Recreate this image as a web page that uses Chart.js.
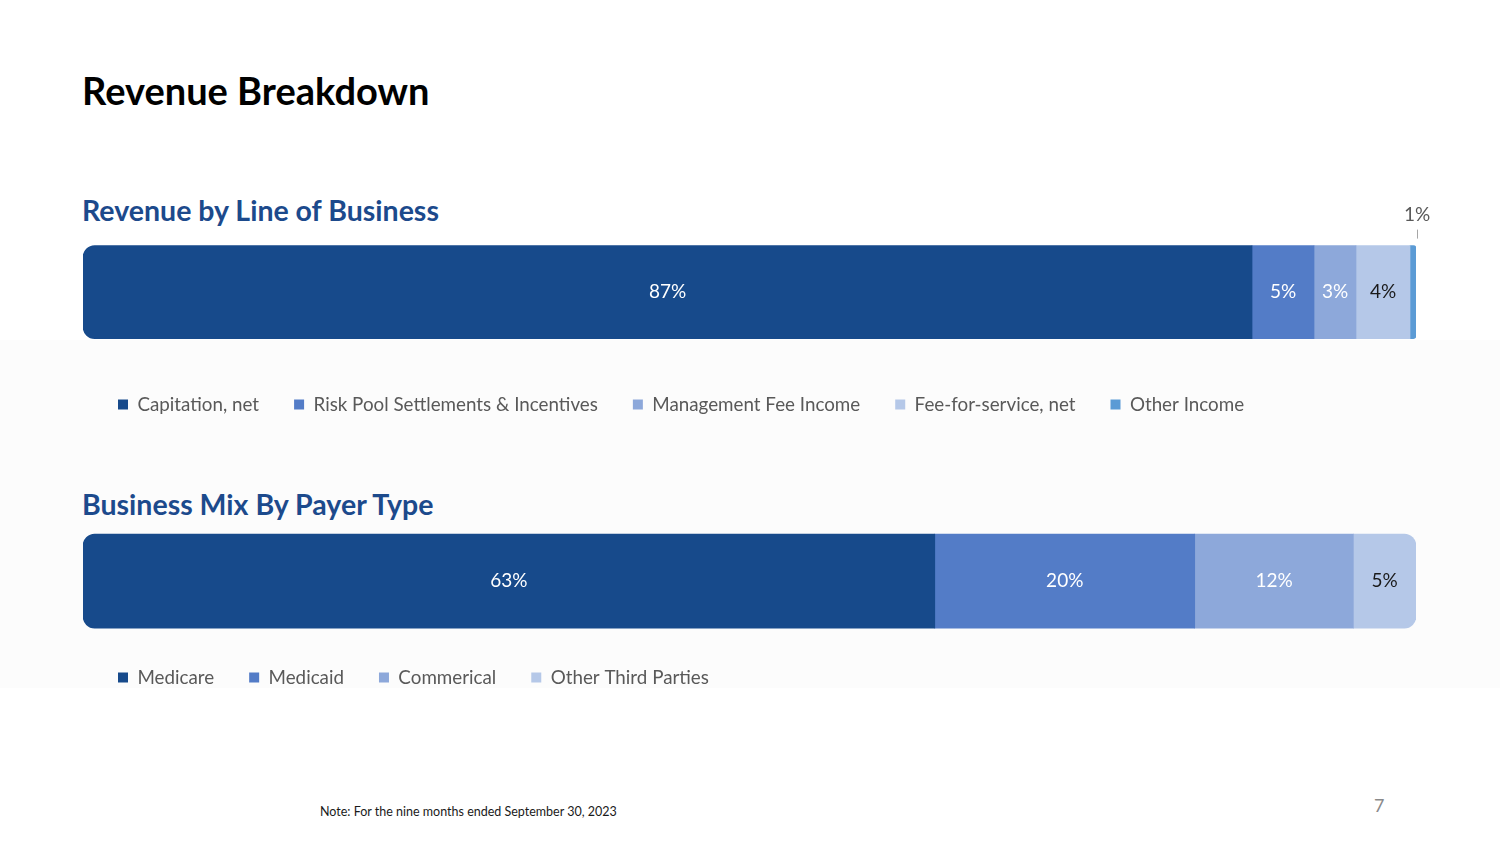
<!DOCTYPE html>
<html>
<head>
<meta charset="utf-8">
<script src="https://cdn.jsdelivr.net/npm/chart.js@4.4.0/dist/chart.umd.min.js"></script>
<style>
  html, body { margin: 0; padding: 0; background: #ffffff; width: 1500px; height: 844px; overflow: hidden; font-family: Lato, "Open Sans", sans-serif; }
  .panel { position: absolute; left: 0; top: 340px; width: 1500px; height: 348px; background: #fcfcfc; }
  .title { position: absolute; left: 82px; top: 67px; font-size: 38px; font-weight: 700; color: #000; white-space: nowrap; }
  .sub { position: absolute; left: 82px; font-size: 28.5px; font-weight: 700; color: #1c4a8c; white-space: nowrap; }
  .note { position: absolute; left: 320px; top: 804px; font-size: 12.5px; color: #1a1a1a; white-space: nowrap; }
  .page { position: absolute; left: 1374px; top: 794px; font-size: 18px; color: #8a8a8a; }
  .cw { position: absolute; left: 83px; width: 1360px; }
</style>
</head>
<body>
<div class="panel"></div>
<div class="title">Revenue Breakdown</div>
<div class="sub" style="top:193px">Revenue by Line of Business</div>
<div class="sub" style="top:487px">Business Mix By Payer Type</div>
<div class="cw" style="top:190px;height:234px"><canvas id="c1"></canvas></div>
<div class="cw" style="top:499px;height:198px"><canvas id="c2"></canvas></div>
<div class="note">Note: For the nine months ended September 30, 2023</div>
<div class="page">7</div>
<script>
// Revenue by Line of Business
const lobCategories = ["Capitation, net", "Risk Pool Settlements & Incentives", "Management Fee Income", "Fee-for-service, net", "Other Income"];
const lobValues = [87.7, 4.65, 3.15, 4.05, 0.45];
const lobLabels = ["87%", "5%", "3%", "4%", "1%"];
const lobColors = ["#174a8b", "#537cc7", "#8da8da", "#b5c8e8", "#5b9bd5"];
const lobLabelColors = ["#ffffff", "#ffffff", "#ffffff", "#1a1a1a", "#595959"];
const lobLabelOutside = [false, false, false, false, true];

// Business Mix by Payer Type
const payerCategories = ["Medicare", "Medicaid", "Commerical", "Other Third Parties"];
const payerValues = [63.9, 19.5, 11.9, 4.7];
const payerLabels = ["63%", "20%", "12%", "5%"];
const payerColors = ["#174a8b", "#537cc7", "#8da8da", "#b5c8e8"];
const payerLabelColors = ["#ffffff", "#ffffff", "#ffffff", "#1a1a1a"];
const payerLabelOutside = [false, false, false, false];

const R = 12;
function buildDatasets(cats, vals, cols, thickness) {
  return cats.map((c, i) => {
    const rad = {topLeft: 0, bottomLeft: 0, topRight: 0, bottomRight: 0};
    if (i === 0) { rad.topLeft = R; rad.bottomLeft = R; }
    if (i === cats.length - 1) { rad.topRight = R; rad.bottomRight = R; }
    return {
      label: c,
      data: [vals[i]],
      backgroundColor: cols[i],
      borderWidth: 0,
      borderSkipped: false,
      borderRadius: rad,
      barThickness: thickness
    };
  });
}

const labelPlugin = {
  id: 'segLabels',
  afterDatasetsDraw(chart, args, opts) {
    const ctx = chart.ctx;
    ctx.save();
    ctx.font = '19px Lato';
    ctx.textAlign = 'center';
    ctx.textBaseline = 'middle';
    chart.data.datasets.forEach((ds, i) => {
      const el = chart.getDatasetMeta(i).data[0];
      if (!el) return;
      const cx = (el.x + el.base) / 2;
      const text = opts.labels[i];
      ctx.fillStyle = opts.colors[i];
      if (opts.outside[i]) {
        const top = el.y - el.height / 2;
        ctx.fillText(text, cx + 4, top - 31);
        ctx.strokeStyle = '#a6a6a6';
        ctx.lineWidth = 1;
        ctx.beginPath();
        ctx.moveTo(Math.round(cx + 4) + 0.5, top - 16);
        ctx.lineTo(Math.round(cx + 4) + 0.5, top - 7);
        ctx.stroke();
      } else {
        ctx.fillText(text, cx, el.y);
      }
    });
    ctx.restore();
  }
};

function makeChart(id, cats, vals, cols, labels, labelCols, outside, padTop, thickness) {
  return new Chart(document.getElementById(id), {
    type: 'bar',
    data: { labels: [''], datasets: buildDatasets(cats, vals, cols, thickness) },
    plugins: [labelPlugin],
    options: {
      indexAxis: 'y',
      responsive: true,
      maintainAspectRatio: false,
      animation: false,
      layout: { padding: { top: padTop, right: 27, left: 0, bottom: 0 } },
      scales: {
        x: { stacked: true, min: 0, max: 100, display: false },
        y: { stacked: true, display: false }
      },
      plugins: {
        tooltip: { enabled: false },
        legend: {
          position: 'bottom',
          align: 'start',
          labels: {
            boxWidth: 10,
            boxHeight: 10,
            padding: 35,
            color: '#595959',
            font: { family: 'Lato', size: 18.8 }
          }
        },
        segLabels: { labels: labels, colors: labelCols, outside: outside }
      }
    }
  });
}

makeChart('c1', lobCategories, lobValues, lobColors, lobLabels, lobLabelColors, lobLabelOutside, 34, 93);
makeChart('c2', payerCategories, payerValues, payerColors, payerLabels, payerLabelColors, payerLabelOutside, 30, 94);
</script>
</body>
</html>
